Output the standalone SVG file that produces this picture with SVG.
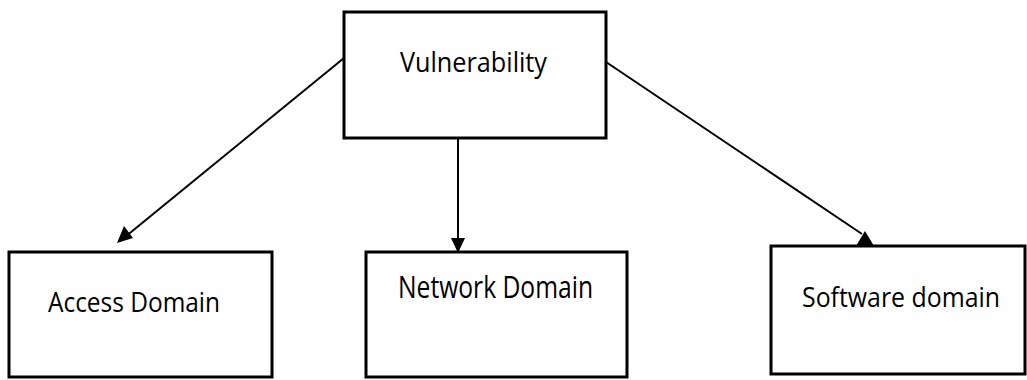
<svg xmlns="http://www.w3.org/2000/svg" width="1027" height="380" viewBox="0 0 1027 380">
<style>
.box{fill:#fff;stroke:#000;stroke-width:3}
.lbl{font-family:"Open Sans","Noto Sans",sans-serif;fill:#000}
.edge{stroke:#000;stroke-width:2;fill:none}
.head{fill:#000}
</style>
<rect width="1027" height="380" fill="#fff"/>
<g id="connectors">
<line class="edge" x1="344" y1="58" x2="125" y2="237"/>
<polygon class="head" points="117,243 124,226 133,238"/>
<line class="edge" x1="458" y1="139" x2="458" y2="240"/>
<polygon class="head" points="458,253 451,238 465,238"/>
<line class="edge" x1="606" y1="62" x2="862" y2="234"/>
<polygon class="head" points="865,231 856,246 874,246"/>
</g>
<g id="vulnerability">
<rect class="box" x="344" y="12" width="262" height="126"/>
<text class="lbl" x="400" y="72" font-size="28" textLength="147" lengthAdjust="spacingAndGlyphs">Vulnerability</text>
</g>
<g id="access">
<rect class="box" x="9" y="252" width="263" height="125"/>
<text class="lbl" x="48" y="312" font-size="28" textLength="172" lengthAdjust="spacingAndGlyphs">Access Domain</text>
</g>
<g id="network">
<rect class="box" x="366" y="252" width="261" height="125"/>
<text class="lbl" x="398" y="298" font-size="31" textLength="195" lengthAdjust="spacingAndGlyphs">Network Domain</text>
</g>
<g id="software">
<rect class="box" x="771" y="246" width="254" height="128"/>
<text class="lbl" x="802" y="307" font-size="28" textLength="198" lengthAdjust="spacingAndGlyphs">Software domain</text>
</g>
</svg>
